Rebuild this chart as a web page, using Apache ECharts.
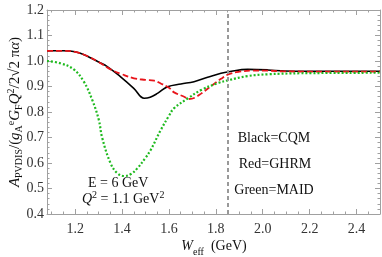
<!DOCTYPE html>
<html><head><meta charset="utf-8">
<script src="https://cdn.jsdelivr.net/npm/echarts@6/dist/echarts.min.js"></script>
<style>html,body{margin:0;padding:0;background:#fff}#c{width:382px;height:257px}</style>
</head><body><div id="c"></div>
<script>
// CQM (black, solid)
const wBlack = [1.08,1.15,1.20,1.25,1.30,1.337,1.394,1.45,1.494,1.52,1.551,1.594,1.651,1.707,1.765,1.822,1.855,1.936,2.022,2.092,2.2,2.5];
const aBlack = [1.040,1.040,1.036,1.020,0.996,0.978,0.938,0.893,0.854,0.858,0.873,0.899,0.910,0.919,0.936,0.952,0.958,0.967,0.965,0.961,0.960,0.960];
// GHRM (red, dashed)
const wRed = [1.08,1.15,1.20,1.25,1.30,1.351,1.40,1.451,1.50,1.537,1.565,1.60,1.622,1.665,1.685,1.71,1.737,1.779,1.822,1.855,1.90,1.95,2.02,2.1,2.5];
const aRed = [1.040,1.040,1.036,1.020,0.996,0.967,0.948,0.932,0.926,0.923,0.912,0.895,0.877,0.860,0.851,0.856,0.872,0.901,0.930,0.948,0.958,0.962,0.962,0.959,0.958];
// MAID (green, dotted)
const wGreen = [1.08,1.137,1.194,1.237,1.273,1.301,1.315,1.351,1.38,1.41,1.44,1.465,1.50,1.522,1.565,1.60,1.622,1.682,1.737,1.808,1.855,1.936,2.022,2.165,2.5];
const aGreen = [1.000,0.991,0.967,0.919,0.847,0.769,0.700,0.599,0.560,0.549,0.558,0.579,0.620,0.651,0.729,0.785,0.815,0.854,0.886,0.913,0.925,0.941,0.948,0.952,0.954];
// threshold line
const wThreshold = 1.855;
// ticks
const xMajor = [1.2,1.4,1.6,1.8,2.0,2.2,2.4];
const xMinor = [1.1,1.15,1.25,1.3,1.35,1.45,1.5,1.55,1.65,1.7,1.75,1.85,1.9,1.95,2.05,2.1,2.15,2.25,2.3,2.35,2.45,2.5];
const yMajor = [0.4,0.5,0.6,0.7,0.8,0.9,1.0,1.1,1.2];
const yMinor = [];
for (let i = 0; i < 8; i++) for (let k = 1; k < 5; k++) yMinor.push(+(0.4 + i*0.1 + k*0.02).toFixed(2));

const zip = (a,b) => a.map((v,i)=>[v,b[i]]);
const FONT = 'Liberation Serif';
const frame = '#a0a0a0';
const X0 = 1.08, X1 = 2.5;

function xAx(pos, vals, len, labels, line) {
  return {type:'value', min:X0, max:X1, position:pos,
    axisLine:{show:line, onZero:false, lineStyle:{color:frame,width:1}},
    splitLine:{show:false},
    axisTick:{show:true, inside:true, length:len, customValues:vals, lineStyle:{color:frame}},
    axisLabel:{show:labels, customValues:vals, formatter:v=>v.toFixed(1), fontFamily:FONT, fontSize:14, color:'#333', margin:8}};
}
function yAx(pos, vals, len, labels, line) {
  return {type:'value', min:0.4, max:1.2, position:pos,
    axisLine:{show:line, onZero:false, lineStyle:{color:frame,width:1}},
    splitLine:{show:false},
    axisTick:{show:true, inside:true, length:len, customValues:vals, lineStyle:{color:frame}},
    axisLabel:{show:labels, customValues:vals, formatter:v=>v.toFixed(1), fontFamily:FONT, fontSize:14, color:'#333', margin:3}};
}

const chart = echarts.init(document.getElementById('c'), null, {renderer:'canvas'});
chart.setOption({
  animation:false,
  grid:{left:47, right:2, top:10, bottom:43},
  xAxis:[xAx('bottom', xMajor, 5, true, true), xAx('bottom', xMinor, 2.5, false, false),
         xAx('top', xMajor, 5, false, true), xAx('top', xMinor, 2.5, false, false)],
  yAxis:[yAx('left', yMajor, 5, true, true), yAx('left', yMinor, 2.5, false, false),
         yAx('right', yMajor, 5, false, true), yAx('right', yMinor, 2.5, false, false)],
  series:[
    {type:'line', data:zip(wBlack,aBlack), smooth:0.4, showSymbol:false,
     lineStyle:{color:'#000', width:1.6},
     markLine:{silent:true, symbol:'none', label:{show:false},
       lineStyle:{color:'#999', width:2, type:[4,3]}, data:[{xAxis:wThreshold}]}},
    {type:'line', data:zip(wRed,aRed), smooth:0.4, showSymbol:false,
     lineStyle:{color:'#e8141a', width:1.8, type:[6,3]}},
    {type:'line', data:zip(wGreen,aGreen), smooth:0.4, showSymbol:false,
     lineStyle:{color:'#1fba1f', width:2.2, type:[2,2]}}
  ],
  graphic:[
    {type:'text', left:88, top:176, style:{text:'E = 6 GeV', fontFamily:FONT, fontSize:14, fill:'#111'}},
    {type:'text', left:82, top:190, style:{
      text:'{i|Q}{sup|2}{n| = 1.1 GeV}{sup|2}',
      rich:{i:{fontFamily:FONT,fontStyle:'italic',fontSize:14,fill:'#111',lineHeight:16,verticalAlign:'bottom'},
            n:{fontFamily:FONT,fontSize:14,fill:'#111',lineHeight:16,verticalAlign:'bottom'},
            sup:{fontFamily:FONT,fontSize:10,fill:'#111',lineHeight:16,verticalAlign:'top'}}}},
    {type:'text', x:274, y:138, style:{text:'Black=CQM', fontFamily:FONT, fontSize:14, fill:'#111', align:'center', verticalAlign:'middle'}},
    {type:'text', x:275, y:164, style:{text:'Red=GHRM', fontFamily:FONT, fontSize:14, fill:'#111', align:'center', verticalAlign:'middle'}},
    {type:'text', x:274, y:190, style:{text:'Green=MAID', fontFamily:FONT, fontSize:14, fill:'#111', align:'center', verticalAlign:'middle'}},
    {type:'text', x:214, y:248, style:{
      text:'{i|W}{sub|eff}{n|  (GeV)}', align:'center', verticalAlign:'middle',
      rich:{i:{fontFamily:FONT,fontStyle:'italic',fontSize:14,fill:'#111',lineHeight:18,verticalAlign:'top'},
            n:{fontFamily:FONT,fontSize:14,fill:'#111',lineHeight:18,verticalAlign:'top'},
            sub:{fontFamily:FONT,fontSize:10,fill:'#111',lineHeight:16,verticalAlign:'bottom'}}}},
    {type:'text', x:15, y:112, rotation:Math.PI/2, style:{
      text:'{i|A}{sub|PVDIS}{n|/(}{i|g}{sub|A}{sup|e}{i|G}{sub|F}{i|Q}{sup|2}{n|/2√2 π}{i|α}{n|)}',
      align:'center', verticalAlign:'middle',
      rich:{i:{fontFamily:FONT,fontStyle:'italic',fontSize:15,fill:'#111',lineHeight:18,verticalAlign:'middle'},
            n:{fontFamily:FONT,fontSize:15,fill:'#111',lineHeight:18,verticalAlign:'middle'},
            sub:{fontFamily:FONT,fontSize:10,fill:'#111',lineHeight:18,verticalAlign:'bottom'},
            sup:{fontFamily:FONT,fontSize:10,fill:'#111',lineHeight:18,verticalAlign:'top'}}}}
  ]
});
</script></body></html>
